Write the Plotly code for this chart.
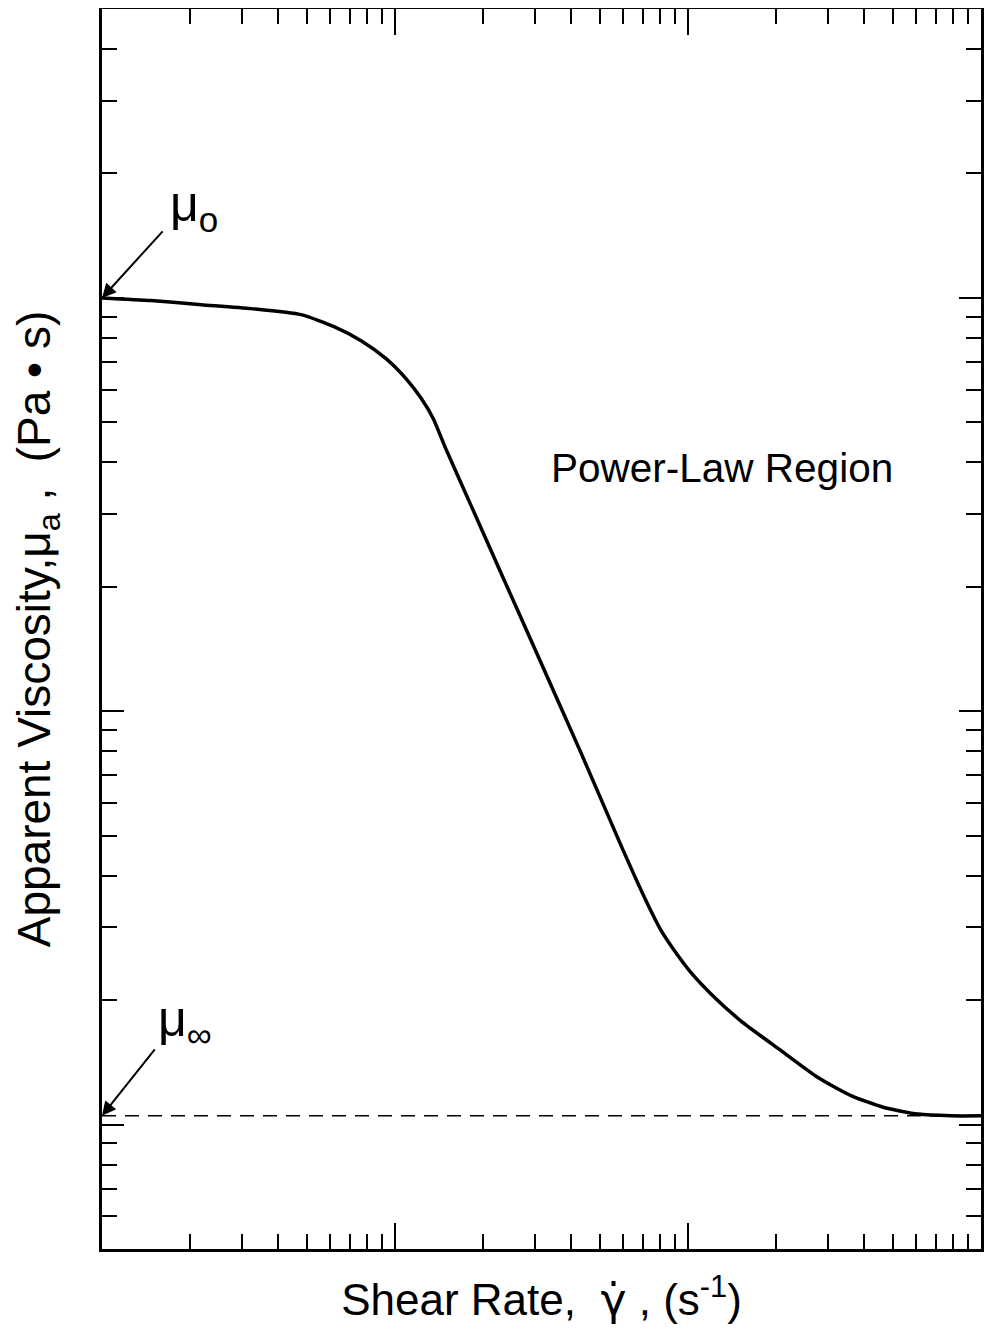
import numpy as np
import plotly.graph_objects as go

# Flow curve (shear rate in s^-1, viscosity in Pa·s)
shear_rate = [1, 1.47, 2.18, 3.23, 4.78, 6.19, 7.66, 9.32, 10.9, 12.3, 13.5, 14.9,
              18.2, 23.0, 31.5, 43.1, 59.1, 71.9, 80.9, 92.5, 102.4, 119.8, 151.7,
              207.7, 277.7, 360, 466.7, 609.5, 790, 1000]
viscosity = [1000, 985, 963, 942, 911, 852, 788, 713, 638, 571, 511, 432,
             314, 216, 131, 79.4, 47.3, 34.8, 29.5, 25.6, 23.3, 20.7, 17.8,
             15.1, 13.0, 11.75, 11.0, 10.6, 10.5, 10.5]

mu_zero = 1000
mu_inf = 10.5
x_limits = [1, 1000]
y_limits = [5, 5000]

FONT = "Liberation Sans, Arial, Helvetica, sans-serif"

fig = go.Figure()

# dashed mu_infinity line
fig.add_trace(go.Scatter(
    x=x_limits, y=[mu_inf, mu_inf], mode="lines",
    line=dict(color="black", width=1.6, dash="14px,9px"),
    hoverinfo="skip", showlegend=False))

# viscosity curve
fig.add_trace(go.Scatter(
    x=shear_rate, y=viscosity, mode="lines",
    line=dict(color="black", width=3.5, shape="spline", smoothing=0.6),
    showlegend=False))

axis_common = dict(
    type="log", showgrid=False, zeroline=False,
    showline=True, linecolor="black", linewidth=3, mirror="ticks",
    ticks="inside", tickcolor="black", tickwidth=2,
    showticklabels=False, dtick=1,
)

fig.update_xaxes(
    **axis_common, ticklen=26,
    range=[np.log10(x_limits[0]), np.log10(x_limits[1])],
    minor=dict(dtick="D1", ticks="inside", ticklen=15, tickwidth=2, tickcolor="black"),
    title=dict(text="Shear Rate,  <span style='font-family:DejaVu Sans'>γ̇</span> , (s<sup>-1</sup>)",
               font=dict(family=FONT, size=44, color="black"), standoff=34),
)
fig.update_yaxes(
    **axis_common, ticklen=22,
    range=[np.log10(y_limits[0]), np.log10(y_limits[1])],
    minor=dict(dtick="D1", ticks="inside", ticklen=15, tickwidth=2, tickcolor="black"),
    title=dict(text="Apparent Viscosity,μ<sub>a</sub> ,  (Pa • s)",
               font=dict(family=FONT, size=46, color="black"), standoff=34),
)

# arrows
fig.add_annotation(x=np.log10(shear_rate[0]), y=np.log10(mu_zero), xref="x", yref="y",
                   ax=62, ay=-68, text="", showarrow=True,
                   arrowhead=2, arrowsize=1.4, arrowwidth=2, arrowcolor="black")
fig.add_annotation(x=np.log10(x_limits[0]), y=np.log10(mu_inf), xref="x", yref="y",
                   ax=54, ay=-68, text="", showarrow=True,
                   arrowhead=2, arrowsize=1.4, arrowwidth=2, arrowcolor="black")

# labels
fig.add_annotation(x=0.075, y=0.84, xref="paper", yref="paper", xanchor="left", yanchor="middle",
                   text="μ<sub>o</sub>", showarrow=False,
                   font=dict(family=FONT, size=50, color="black"))
fig.add_annotation(x=0.062, y=0.183, xref="paper", yref="paper", xanchor="left", yanchor="middle",
                   text="μ<sub>∞</sub>", showarrow=False,
                   font=dict(family=FONT, size=50, color="black"))
fig.add_annotation(x=0.509, y=0.630, xref="paper", yref="paper", xanchor="left", yanchor="middle",
                   text="Power-Law Region", showarrow=False,
                   font=dict(family=FONT, size=40.5, color="black"))

fig.update_layout(
    width=994, height=1338,
    margin=dict(l=94, r=21, t=1, b=97, autoexpand=False),
    paper_bgcolor="white", plot_bgcolor="white",
    font=dict(family=FONT, color="black"),
    showlegend=False,
)

fig.write_html("out.html")
